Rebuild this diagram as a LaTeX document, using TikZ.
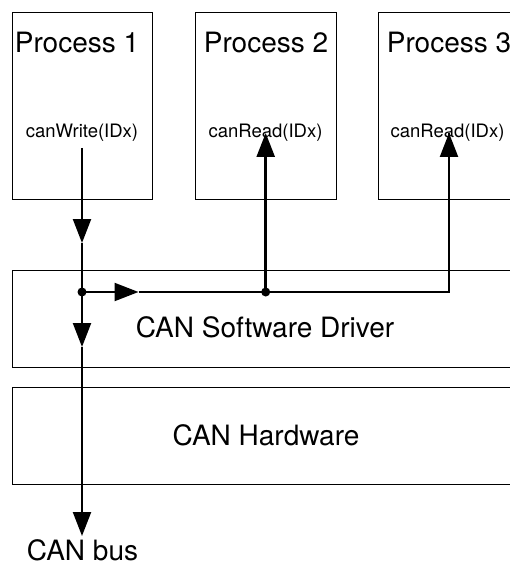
\documentclass[tikz,border=0pt]{standalone}
\usepackage{fontspec}
\setmainfont{TeX Gyre Heros}
\usetikzlibrary{arrows.meta}
\begin{document}
\begin{tikzpicture}[x=1pt,y=-1pt,
  box/.style={draw=black,line width=1pt},
  big/.style={font=\fontsize{28}{30}\selectfont,anchor=base,inner sep=0pt},
  small/.style={font=\fontsize{18.5}{20}\selectfont,anchor=base,inner sep=0pt},
  wire/.style={line width=2.2pt},
  arr/.style={wire,-{Triangle[length=24pt,width=18pt]}},
  jdot/.style={circle,fill=black,inner sep=0pt,minimum size=9pt}]
\useasboundingbox (0,0) rectangle (510,564);
\node[big,text depth=0pt] (bus) at (82.5,560) {CAN bus};
\begin{scope}
\clip (0,0) rectangle (510,564);
% boxes
\draw[box] (12.5,12.5) rectangle (152.5,199);
\draw[box] (195.5,12.5) rectangle (336,199);
\draw[box] (378.5,12.5) rectangle (519,199);
\draw[box] (12.5,270) rectangle (519,367);
\draw[box] (12.5,387) rectangle (519,484.5);
% texts
\node[big] (p1) at (77,53) {Process 1};
\node[big] (p2) at (266,53) {Process 2};
\node[big] (p3) at (449,53) {Process 3};
\node[small] (w1) at (82,137.5) {canWrite(IDx)};
\node[small] (r2) at (265.5,137.5) {canRead(IDx)};
\node[small] (r3) at (447.5,137.5) {canRead(IDx)};
\node[big] (sw) at (265,337) {CAN Software Driver};
\node[big] (hw) at (266,445) {CAN Hardware};
% coordinates
\coordinate (s1) at (82,148);
\coordinate (a1) at (82,243);
\coordinate (j1) at (82,292);
\coordinate (a2) at (82,347);
\coordinate (a3) at (82,536);
\coordinate (h1) at (138.5,292);
\coordinate (j2) at (265.7,292);
\coordinate (t2) at (265.7,133);
\coordinate (c3) at (449,292);
\coordinate (t3) at (449,133);
% wires
\draw[arr] (s1) -- (a1);
\draw[arr] (a1) -- (a2);
\draw[arr] (a2) -- (a3);
\draw[arr] (j1) -- (h1);
\draw[wire,line join=miter] (h1) -- (c3) -- (t3);
\draw[arr] (c3) -- (t3);
\draw[arr,line width=2.6pt] (j2) -- (t2);
\node[jdot] (d1) at (j1) {};
\node[jdot] (d2) at (j2) {};
\end{scope}
\end{tikzpicture}
\end{document}
